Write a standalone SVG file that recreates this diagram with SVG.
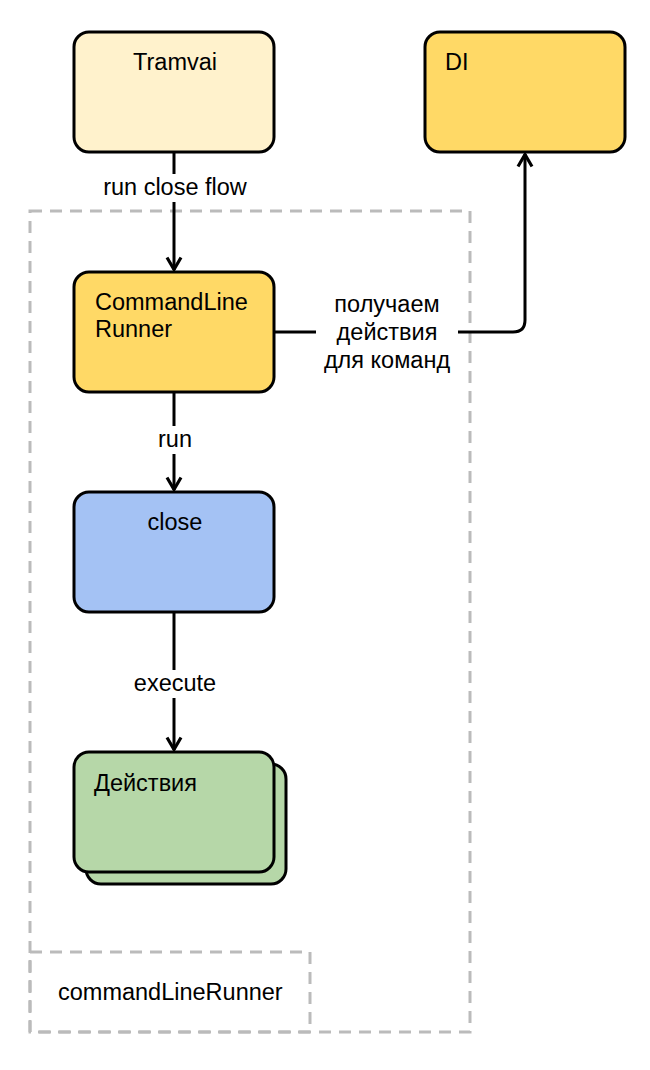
<svg xmlns="http://www.w3.org/2000/svg" width="650" height="1070" viewBox="0 0 650 1070">
<style>
.node{stroke:#000;stroke-width:3}
.t{font-family:"Liberation Sans",Arial,sans-serif;font-size:23.5px;fill:#000}
.dash{fill:none;stroke:#bbb;stroke-width:3;stroke-dasharray:12 8}
.edge{fill:none;stroke:#000;stroke-width:3}
</style>
<defs>
<marker id="arr" viewBox="0 0 16 18" refX="14.5" refY="9" markerWidth="16" markerHeight="18" markerUnits="userSpaceOnUse" orient="auto">
<path d="M2,2 L14,9 L2,16" fill="none" stroke="#000" stroke-width="3.2" stroke-linejoin="miter"/>
</marker>
</defs>
<rect width="650" height="1070" fill="#fff"/>
<g id="container">
<rect class="dash" x="30" y="211" width="440" height="821"/>
<rect class="dash" x="30" y="952" width="280" height="80"/>
<text class="t" x="58" y="1000">commandLineRunner</text>
</g>
<g id="tramvai">
<rect class="node" x="74" y="32" width="200" height="120" rx="15" fill="#fff2cc"/>
<text class="t" x="175" y="70" text-anchor="middle">Tramvai</text>
</g>
<g id="di">
<rect class="node" x="425" y="32" width="200" height="120" rx="15" fill="#ffd966"/>
<text class="t" x="445" y="70">DI</text>
</g>
<g id="commandLineRunner">
<rect class="node" x="74" y="272" width="200" height="120" rx="15" fill="#ffd966"/>
<text class="t" x="95" y="310">CommandLine</text>
<text class="t" x="95" y="337">Runner</text>
</g>
<g id="close">
<rect class="node" x="74" y="492" width="200" height="120" rx="15" fill="#a4c2f4"/>
<text class="t" x="175" y="530" text-anchor="middle">close</text>
</g>
<g id="actions">
<rect class="node" x="86" y="764" width="200" height="120" rx="15" fill="#b6d7a8"/>
<rect class="node" x="74" y="752" width="200" height="120" rx="15" fill="#b6d7a8"/>
<text class="t" x="94" y="791">Действия</text>
</g>
<g id="connectors">
<path class="edge" d="M174,152 V270" marker-end="url(#arr)"/>
<rect x="98" y="174" width="154" height="28" fill="#fff"/>
<text class="t" x="175" y="195" text-anchor="middle">run close flow</text>
<path class="edge" d="M174,392 V490" marker-end="url(#arr)"/>
<rect x="152" y="426" width="44" height="28" fill="#fff"/>
<text class="t" x="175" y="447" text-anchor="middle">run</text>
<path class="edge" d="M174,612 V750" marker-end="url(#arr)"/>
<rect x="130" y="670" width="90" height="28" fill="#fff"/>
<text class="t" x="175" y="691" text-anchor="middle">execute</text>
<path class="edge" d="M274,332 H513 Q525,332 525,320 V154" marker-end="url(#arr)"/>
<rect x="316" y="288" width="142" height="88" fill="#fff"/>
<text class="t" x="387" y="312" text-anchor="middle">получаем</text>
<text class="t" x="387" y="340" text-anchor="middle">действия</text>
<text class="t" x="387" y="368" text-anchor="middle">для команд</text>
</g>
</svg>
